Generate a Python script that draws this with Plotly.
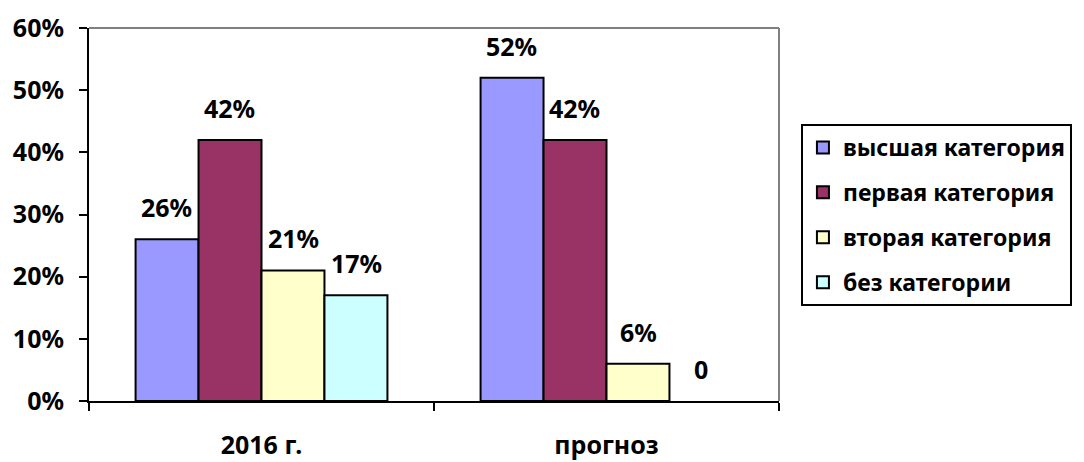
import plotly.graph_objects as go

categories = ["2016 г.", "прогноз"]
series_names = ["высшая категория", "первая категория", "вторая категория", "без категории"]
series_values = [
    [26, 52],
    [42, 42],
    [21, 6],
    [17, 0],
]
series_labels = [
    ["26%", "52%"],
    ["42%", "42%"],
    ["21%", "6%"],
    ["17%", "0"],
]
colors = ["#9999FF", "#993366", "#FFFFCC", "#CCFFFF"]
y_ticks = [0, 10, 20, 30, 40, 50, 60]
y_tick_text = ["0%", "10%", "20%", "30%", "40%", "50%", "60%"]

FONT = "Noto Sans"
FS = 25
fig = go.Figure()
for i, name in enumerate(series_names):
    fig.add_trace(go.Bar(
        x=categories, y=series_values[i], name=name,
        marker=dict(color=colors[i],
                    line=dict(color="black", width=[2 if v > 0 else 0 for v in series_values[i]])),
        legendgroup=name,
    ))

W, H = 1084, 462
L, R, T, B = 89, 303, 28, 61
plot_w = W - L - R
cat_w = plot_w / len(categories)
bargap = 0.27
bar_w = cat_w * (1 - bargap) / len(series_names)

for i in range(len(series_names)):
    for j, cat in enumerate(categories):
        fig.add_annotation(
            x=cat, y=series_values[i][j], xref="x", yref="y",
            text=series_labels[i][j], showarrow=False,
            xshift=(i - (len(series_names) - 1) / 2) * bar_w,
            yanchor="middle", yshift=32,
            font=dict(family=FONT, size=FS, color="black", weight=700),
        )

# gray top and right borders
fig.add_shape(type="line", xref="paper", yref="paper", x0=0, x1=1, y0=1, y1=1,
              line=dict(color="#808080", width=2))
fig.add_shape(type="line", xref="paper", yref="paper", x0=1, x1=1, y0=0, y1=1,
              line=dict(color="#808080", width=2))

fig.update_layout(
    width=W, height=H,
    margin=dict(l=L, r=R, t=T, b=B),
    paper_bgcolor="white", plot_bgcolor="white",
    barmode="group", bargap=bargap, bargroupgap=0,
    font=dict(family=FONT, size=FS, color="black", weight=700),
    showlegend=True,
    legend=dict(
        x=(803 - L) / plot_w, y=(H - B - 124) / (H - T - B),
        xanchor="left", yanchor="top",
        bordercolor="black", borderwidth=2,
        font=dict(family=FONT, size=23, color="black", weight=700),
        tracegroupgap=12, traceorder="grouped", itemwidth=30,
    ),
    xaxis=dict(
        type="category", showline=True, linecolor="black", linewidth=2,
        ticks="outside", tickson="boundaries", ticklen=8, tickwidth=2, tickcolor="black",
        ticklabelstandoff=21, showgrid=False, automargin=False,
    ),
    yaxis=dict(
        range=[0, 60], tickvals=y_ticks, ticktext=y_tick_text,
        showline=True, linecolor="black", linewidth=2,
        ticks="outside", ticklen=8, tickwidth=2, tickcolor="black",
        ticklabelstandoff=10, showgrid=False, zeroline=False, automargin=False,
    ),
)

fig.write_html("out.html")
